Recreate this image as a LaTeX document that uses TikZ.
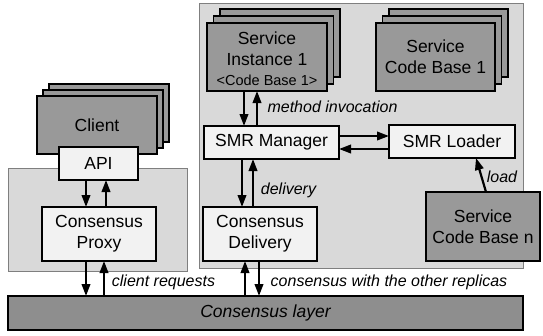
\documentclass[tikz,border=0pt]{standalone}
\usepackage{fontspec}
\setmainfont{Liberation Sans}
\usetikzlibrary{arrows.meta}
\definecolor{panelgray}{HTML}{D9D9D9}
\definecolor{panelline}{HTML}{7F7F7F}
\definecolor{darkbox}{HTML}{999999}
\definecolor{layergray}{HTML}{8E8E8E}
\definecolor{lightbox}{HTML}{F2F2F2}
\tikzset{
  panel/.style={fill=panelgray, draw=panelline, line width=0.8pt},
  basebox/.style={rectangle, inner sep=0pt, outer sep=0pt, align=center,
    font=\fontsize{17.5}{21}\selectfont},
  darkrect/.style={basebox, fill=darkbox, draw=black, line width=1.1pt},
  litebox/.style={basebox, fill=lightbox, draw=black, line width=1.1pt},
  stackbox/.style={darkrect, minimum width=120pt, minimum height=68pt},
  arr/.style={line width=2.2pt, -{Triangle[length=12pt,width=8.5pt]}},
  lbl/.style={inner sep=0pt, font=\fontsize{16}{19}\selectfont\itshape},
}
\begin{document}
\begin{tikzpicture}[x=1pt, y=-1pt]
\useasboundingbox (0,0) rectangle (543,335);

% background panels
\draw[panel] (199,3) rectangle (523,268);
\draw[panel] (8,168) rectangle (187,271);

% client stack
\node[darkrect, minimum width=120pt, minimum height=58pt] (client3) at (109,113) {};
\node[darkrect, minimum width=120pt, minimum height=58pt] (client2) at (103,119) {};
\node[darkrect, minimum width=120pt, minimum height=58pt] (client) at (97,125) {Client};

% service instance stack
\node[stackbox] (inst3) at (280,43) {};
\node[stackbox] (inst2) at (273.5,50) {};
\node[stackbox] (inst) at (267,57) {};
\node[basebox] (instA) at (267,38) {Service};
\node[basebox] (instB) at (267,60) {Instance 1};
\node[basebox, font=\fontsize{14.5}{17}\selectfont] (instC) at (267,80) {<Code Base 1>};

% service code base 1 stack
\node[stackbox, minimum width=119pt] (code3) at (448.5,43) {};
\node[stackbox, minimum width=119pt] (code2) at (442,50) {};
\node[stackbox, minimum width=119pt] (code) at (435.5,57) {Service\\Code Base 1};

% light boxes
\node[litebox, minimum width=79pt, minimum height=33pt] (api) at (98.5,163.5) {API};
\node[litebox, minimum width=114pt, minimum height=54pt] (proxy) at (99,234) {Consensus\\Proxy};
\node[litebox, minimum width=135pt, minimum height=33pt] (manager) at (271.5,142.5) {SMR Manager};
\node[litebox, minimum width=126pt, minimum height=33pt] (loader) at (452,141.5) {SMR Loader};
\node[litebox, minimum width=114pt, minimum height=54pt] (delivery) at (260,234) {Consensus\\Delivery};

% service code base n
\node[darkrect, minimum width=114pt, minimum height=69pt] (codeN) at (483,226.5) {Service\\Code Base n};

% consensus layer
\node[darkrect, fill=layergray, minimum width=515pt, minimum height=34pt,
  font=\fontsize{17.5}{21}\selectfont\itshape] (layer) at (265.5,313) {Consensus layer};

% connectors
\draw[arr] (86,0 |- api.south) -- (86,0 |- proxy.north);
\draw[arr] (106,0 |- proxy.north) -- (106,0 |- api.south);
\draw[arr] (86,0 |- proxy.south) -- (86,0 |- layer.north);
\draw[arr] (104,0 |- layer.north) -- (104,0 |- proxy.south);

\draw[arr] (244,0 |- inst.south) -- (244,0 |- manager.north);
\draw[arr] (257,0 |- manager.north) -- (257,0 |- inst.south);
\draw[arr] (manager.east |- 0,136) -- (loader.west |- 0,136);
\draw[arr] (loader.west |- 0,149) -- (manager.east |- 0,149);
\draw[arr] (242,0 |- manager.south) -- (242,0 |- delivery.north);
\draw[arr] (253,0 |- delivery.north) -- (253,0 |- manager.south);
\draw[arr] (245,0 |- layer.north) -- (245,0 |- delivery.south);
\draw[arr] (259,0 |- delivery.south) -- (259,0 |- layer.north);
\draw[arr] (486,0 |- codeN.north) -- (476,0 |- loader.south);

% connector labels
\node[lbl] (lmethod) at (332.5,107) {method invocation};
\node[lbl] (ldeliv) at (288.5,190) {delivery};
\node[lbl] (lload) at (502,177) {load};
\node[lbl] (lclient) at (163.5,282) {client requests};
\node[lbl] (lcons) at (389,282) {consensus with the other replicas};
\end{tikzpicture}
\end{document}
